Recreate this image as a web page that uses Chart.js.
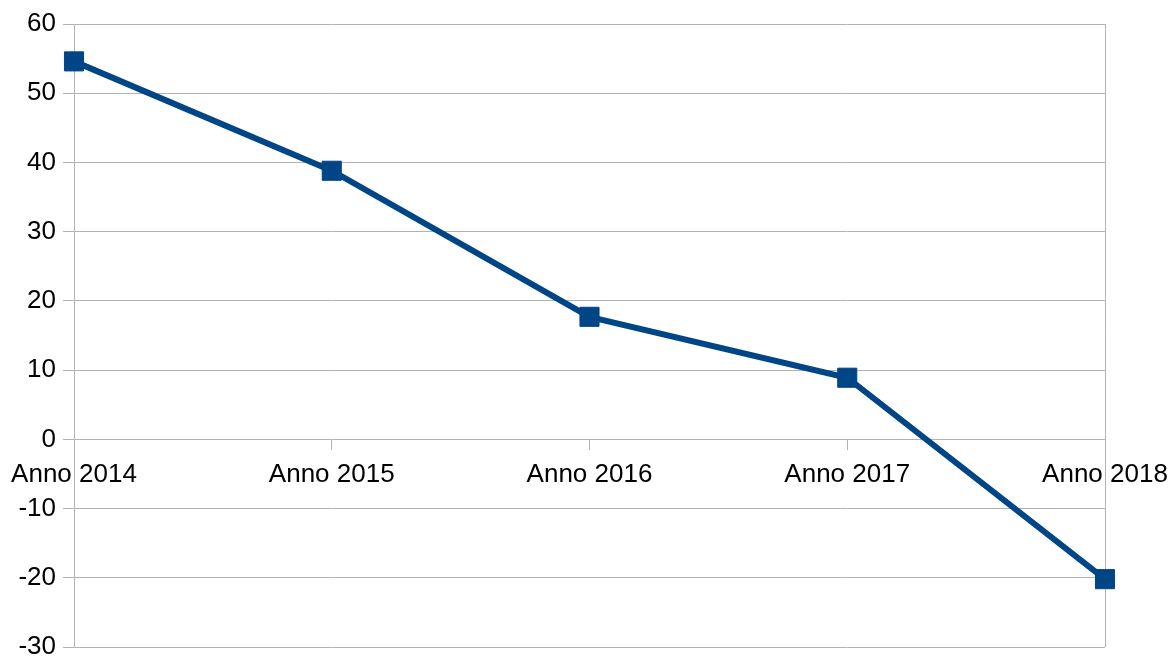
<!DOCTYPE html>
<html>
<head>
<meta charset="utf-8">
<script src="https://cdn.jsdelivr.net/npm/chart.js@4/dist/chart.umd.min.js"></script>
<style>
  html, body { margin: 0; padding: 0; background: #fff; }
</style>
</head>
<body>
<canvas id="myChart" width="1169" height="657"></canvas>
<script>
const labels = ['Anno 2014', 'Anno 2015', 'Anno 2016', 'Anno 2017', 'Anno 2018'];
const values = [54.6, 38.8, 17.7, 8.9, -20.2];
const yMin = -30;
const yMax = 60;
const yStep = 10;

const grid = '#b3b3b3';
const blue = '#004586';

// drop the auto padding from tick labels so the plot area sits where the layout padding says
function noPad(scale) {
    scale.paddingLeft = 0;
    scale.paddingRight = 0;
    scale.paddingTop = 0;
    scale.paddingBottom = 0;
}

const ctx = document.getElementById('myChart');
const chart = new Chart(ctx, {
    type: 'line',
    data: {
        labels: labels,
        datasets: [{
            data: values,
            borderColor: blue,
            backgroundColor: blue,
            borderWidth: 6,
            pointStyle: 'rect',
            pointRadius: 13.5,
            pointBorderWidth: 1,
            pointBorderColor: blue,
            pointBackgroundColor: blue,
            tension: 0,
            clip: false
        }]
    },
    options: {
        responsive: false,
        animation: false,
        layout: {
            autoPadding: false,
            padding: { left: 0, right: 64, top: 24, bottom: 10 }
        },
        plugins: {
            legend: { display: false },
            tooltip: { enabled: false }
        },
        scales: {
            x: {
                type: 'category',
                offset: false,
                position: { y: 0 },
                afterFit: noPad,
                grid: {
                    drawOnChartArea: true,
                    color: (c) => (c.index === labels.length - 1 ? grid : 'transparent'),
                    tickColor: grid,
                    tickLength: 11,
                    lineWidth: 1
                },
                border: { display: false },
                ticks: {
                    color: '#000',
                    padding: 9,
                    maxRotation: 0,
                    autoSkip: false,
                    font: { family: 'Liberation Sans', size: 26 }
                }
            },
            y: {
                min: yMin,
                max: yMax,
                afterFit: (scale) => { noPad(scale); scale.width = 74; },
                grid: {
                    color: grid,
                    tickColor: grid,
                    tickLength: 11,
                    lineWidth: 1
                },
                border: { display: true, color: grid },
                ticks: {
                    stepSize: yStep,
                    color: '#000',
                    padding: 7,
                    font: { family: 'Liberation Sans', size: 26 }
                }
            }
        }
    }
});
</script>
</body>
</html>
